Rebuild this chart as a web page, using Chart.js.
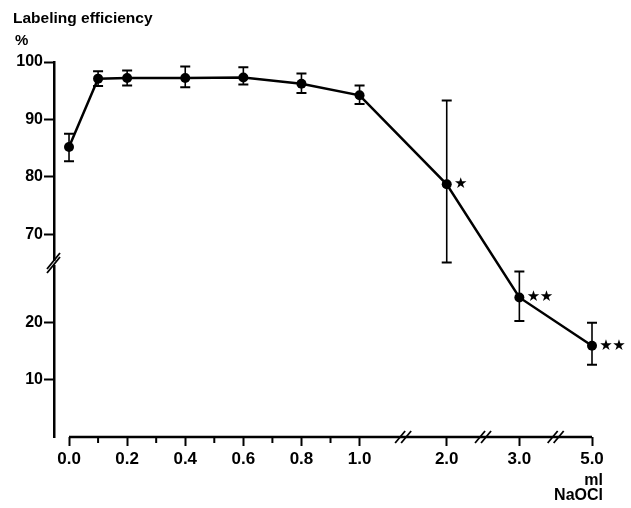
<!DOCTYPE html>
<html>
<head>
<meta charset="utf-8">
<script src="https://cdn.jsdelivr.net/npm/chart.js@4"></script>
<style>
  html, body { margin: 0; padding: 0; background: #fff; }
  #wrap { width: 631px; height: 508px; }
</style>
</head>
<body>
<div id="wrap"><canvas id="chart" width="631" height="508"></canvas></div>
<script>
// values
const doses = [0.0, 0.1, 0.2, 0.4, 0.6, 0.8, 1.0, 2.0, 3.0, 5.0];
const efficiency = [85.2, 97.1, 97.2, 97.2, 97.3, 96.2, 94.2, 78.7, 24.3, 15.9];
const errLow = [82.7, 95.8, 95.9, 95.6, 96.1, 94.6, 92.7, 65.1, 20.2, 12.6];
const errHigh = [87.5, 98.4, 98.5, 99.2, 99.1, 98.0, 95.9, 93.3, 28.8, 19.9];
const significance = ['', '', '', '', '', '', '', '*', '**', '**'];

const yTickValues = [10, 20, 70, 80, 90, 100];
const xLabelValues = [0.0, 0.2, 0.4, 0.6, 0.8, 1.0, 2.0, 3.0, 5.0];
const xMinorValues = [0.1, 0.3, 0.5, 0.7, 0.9];

// broken axes: map real values onto the drawn scale
const yBreak = 65;
function toAxisY(v) {
    return v >= yBreak ? v - 34.7 : v;
}
function toAxisX(v) {
    if (v <= 1) return v;
    if (v <= 2) return 1 + (v - 1) * 0.30;
    if (v <= 3) return 1.30 + (v - 2) * 0.25;
    return 1.55 + (v - 3) * 0.125;
}

const FONT = '"Liberation Sans", Arial, sans-serif';

const points = doses.map((d, i) => ({ x: toAxisX(d), y: toAxisY(efficiency[i]) }));

const decorations = {
    id: 'decorations',
    beforeDatasetsDraw(chart) {
        const { ctx, scales: { x, y } } = chart;
        ctx.save();
        ctx.strokeStyle = '#000';
        doses.forEach((d, i) => {
            const px = x.getPixelForValue(toAxisX(d));
            const top = y.getPixelForValue(toAxisY(errHigh[i]));
            const bot = y.getPixelForValue(toAxisY(errLow[i]));
            ctx.lineWidth = 1.6;
            ctx.beginPath();
            ctx.moveTo(px, top);
            ctx.lineTo(px, bot);
            ctx.stroke();
            ctx.lineWidth = 2;
            ctx.beginPath();
            ctx.moveTo(px - 5, top);
            ctx.lineTo(px + 5, top);
            ctx.moveTo(px - 5, bot);
            ctx.lineTo(px + 5, bot);
            ctx.stroke();
        });
        ctx.restore();
    },
    afterDraw(chart) {
        const { ctx, chartArea, scales: { x, y } } = chart;
        ctx.save();
        ctx.strokeStyle = '#000';
        ctx.fillStyle = '#000';

        // x axis line, starting at 0.0
        const x0 = x.getPixelForValue(toAxisX(0));
        const x1 = x.getPixelForValue(toAxisX(5));
        const by = chartArea.bottom;
        ctx.lineWidth = 2.5;
        ctx.beginPath();
        ctx.moveTo(x0, by);
        ctx.lineTo(x1, by);
        ctx.stroke();

        // minor ticks
        ctx.lineWidth = 2;
        xMinorValues.forEach(v => {
            const px = x.getPixelForValue(toAxisX(v));
            ctx.beginPath();
            ctx.moveTo(px, by);
            ctx.lineTo(px, by + 6);
            ctx.stroke();
        });

        // x breaks between the wide segments
        ctx.lineWidth = 1.8;
        for (let i = 5; i < xLabelValues.length - 1; i++) {
            const mid = (toAxisX(xLabelValues[i]) + toAxisX(xLabelValues[i + 1])) / 2;
            const px = x.getPixelForValue(mid);
            [-3, 3].forEach(o => {
                ctx.beginPath();
                ctx.moveTo(px + o - 5, by + 6);
                ctx.lineTo(px + o + 5, by - 6);
                ctx.stroke();
            });
        }

        // y break
        const yb = y.getPixelForValue(toAxisY(yBreak));
        const ax = chartArea.left;
        ctx.fillStyle = '#fff';
        ctx.fillRect(ax - 3, yb - 2, 6, 4);
        ctx.fillStyle = '#000';
        [-2, 2].forEach(o => {
            ctx.beginPath();
            ctx.moveTo(ax - 7, yb + 8 + o);
            ctx.lineTo(ax + 6, yb - 8 + o);
            ctx.stroke();
        });

        // significance stars
        ctx.font = '15px "DejaVu Sans", sans-serif';
        ctx.textAlign = 'center';
        ctx.textBaseline = 'middle';
        doses.forEach((d, i) => {
            const px = x.getPixelForValue(toAxisX(d));
            const py = y.getPixelForValue(toAxisY(efficiency[i]));
            for (let k = 0; k < significance[i].length; k++) {
                ctx.fillText('\u2605', px + 14 + k * 13, py);
            }
        });

        // titles
        ctx.textAlign = 'left';
        ctx.textBaseline = 'alphabetic';
        ctx.font = 'bold 15.5px ' + FONT;
        ctx.fillText('Labeling efficiency', 13, 23);
        ctx.font = 'bold 15px ' + FONT;
        ctx.fillText('%', 15, 45);
        ctx.textAlign = 'right';
        ctx.font = 'bold 16px ' + FONT;
        ctx.fillText('ml', 603, 485);
        ctx.fillText('NaOCl', 603, 500);
        ctx.restore();
    }
};

new Chart(document.getElementById('chart'), {
    type: 'scatter',
    data: {
        datasets: [{
            data: points,
            showLine: true,
            clip: false,
            borderColor: '#000',
            backgroundColor: '#000',
            borderWidth: 2.5,
            pointRadius: 5,
            pointHoverRadius: 5,
            pointBorderWidth: 0
        }]
    },
    options: {
        responsive: false,
        animation: false,
        layout: { padding: { left: 0, top: 62, right: 39, bottom: 0 } },
        plugins: { legend: { display: false }, tooltip: { enabled: false } },
        scales: {
            x: {
                type: 'linear',
                min: -0.0517,
                max: 1.8,
                afterBuildTicks: scale => {
                    scale.ticks = xLabelValues.map(v => ({ value: toAxisX(v) }));
                },
                afterFit: scale => { scale.height = 71; },
                ticks: {
                    autoSkip: false,
                    maxRotation: 0,
                    padding: 3,
                    color: '#000',
                    font: { family: FONT, size: 17, weight: 'bold' },
                    callback: (val, idx) => xLabelValues[idx].toFixed(1)
                },
                grid: {
                    drawOnChartArea: false,
                    tickLength: 9,
                    tickWidth: 2,
                    tickColor: '#000'
                },
                border: { display: false }
            },
            y: {
                type: 'linear',
                min: 0,
                max: toAxisY(100),
                afterBuildTicks: scale => {
                    scale.ticks = yTickValues.map(v => ({ value: toAxisY(v) }));
                },
                afterFit: scale => { scale.width = 54; },
                ticks: {
                    autoSkip: false,
                    padding: 1,
                    color: '#000',
                    font: { family: FONT, size: 16, weight: 'bold' },
                    callback: (val, idx) => yTickValues[idx]
                },
                grid: {
                    drawOnChartArea: false,
                    tickLength: 10,
                    tickWidth: 2,
                    tickColor: '#000'
                },
                border: { display: true, color: '#000', width: 2.5 }
            }
        }
    },
    plugins: [decorations]
});
</script>
</body>
</html>
